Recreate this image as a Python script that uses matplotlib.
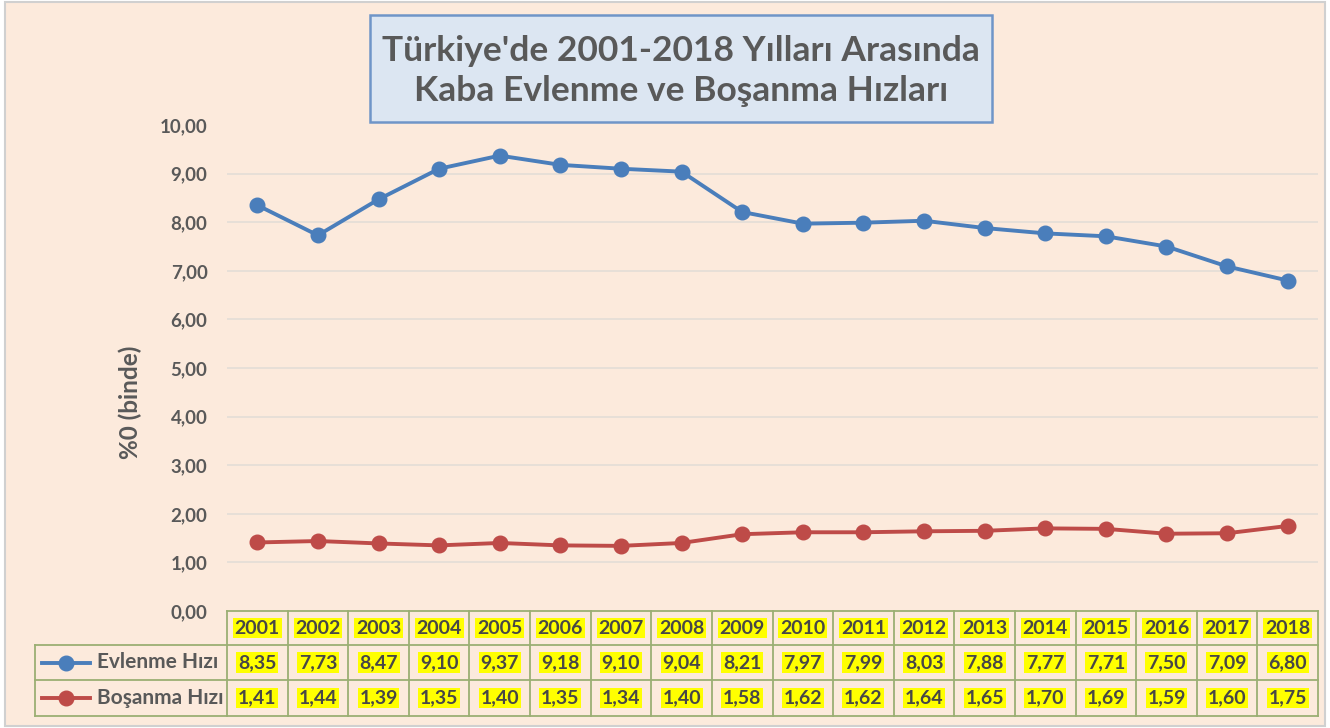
import numpy as np
import matplotlib
matplotlib.use("Agg")
from matplotlib import pyplot as plt
from matplotlib import transforms
from matplotlib.patches import Rectangle

# data
years = [2001, 2002, 2003, 2004, 2005, 2006, 2007, 2008, 2009,
         2010, 2011, 2012, 2013, 2014, 2015, 2016, 2017, 2018]
evlenme = [8.35, 7.73, 8.47, 9.10, 9.37, 9.18, 9.10, 9.04, 8.21,
           7.97, 7.99, 8.03, 7.88, 7.77, 7.71, 7.50, 7.09, 6.80]
bosanma = [1.41, 1.44, 1.39, 1.35, 1.40, 1.35, 1.34, 1.40, 1.58,
           1.62, 1.62, 1.64, 1.65, 1.70, 1.69, 1.59, 1.60, 1.75]
series_names = ["Evlenme Hızı", "Boşanma Hızı"]
yticks = [0, 1, 2, 3, 4, 5, 6, 7, 8, 9, 10]

title = "Türkiye'de 2001-2018 Yılları Arasında\nKaba Evlenme ve Boşanma Hızları"
ylabel = "%0 (binde)"

plt.rcParams['font.family'] = ['Lato', 'DejaVu Sans']

bg = '#FCEADC'
txt = '#595959'
blue = '#4A7EBB'
red = '#BE4B48'
tbl = '#9BAF73'

W, H = 1330, 728
fig = plt.figure(figsize=(W / 100, H / 100), dpi=100)
fig.patch.set_facecolor('white')
# chart area with thin grey frame
fig.patches.append(Rectangle((5 / W, 2 / H), 1320 / W, 724 / H, transform=fig.transFigure,
                             facecolor=bg, edgecolor='#D0D0D0', linewidth=1.5, zorder=-10))

# plot area in pixels
left, right, top, bottom = 227, 1318, 125, 611
ax = fig.add_axes([left / W, 1 - bottom / H, (right - left) / W, (bottom - top) / H])
ax.set_facecolor(bg)
ax.patch.set_alpha(0)

x = np.arange(len(years))
ax.plot(x, evlenme, color=blue, lw=2.8, marker='o', ms=10.5, zorder=3)
ax.plot(x, bosanma, color=red, lw=2.8, marker='o', ms=10.5, zorder=3)

ax.set_xlim(-0.5, len(years) - 0.5)
ax.set_ylim(0, 10)
ax.set_yticks(yticks)
ax.set_yticklabels([f"{v:.2f}".replace('.', ',') for v in yticks])
ax.set_xticks([])
ax.tick_params(axis='y', length=0, pad=14, labelsize=13.5, labelcolor=txt)
for lab in ax.get_yticklabels():
    lab.set_fontweight('bold')
ax.yaxis.grid(True, color='#E3DDD6', lw=1.2)
gl = ax.get_ygridlines()
gl[0].set_visible(False)
gl[-1].set_visible(False)
for s in ax.spines.values():
    s.set_visible(False)
ax.set_ylabel(ylabel, fontsize=17.5, fontweight='bold', color=txt)
ax.yaxis.set_label_coords(-0.078, 0.43)

# data table under the plot, x in data units, y in axes fraction
trans = transforms.blended_transform_factory(ax.transData, ax.transAxes)
ph = bottom - top


def ay(py):
    return (bottom - py) / ph


rows_y = [ay(611), ay(645), ay(680), ay(716)]
n = len(years)
unit = (right - left) / n
lab_left = -0.5 - (left - 35) / unit
lk = dict(color=tbl, lw=1.3, transform=trans, clip_on=False)
# horizontal lines
ax.plot([-0.5, n - 0.5], [rows_y[0]] * 2, **lk)
for ry in rows_y[1:]:
    ax.plot([lab_left, n - 0.5], [ry] * 2, **lk)
# vertical lines
ax.plot([lab_left, lab_left], [rows_y[1], rows_y[3]], **lk)
for i in range(n + 1):
    ax.plot([i - 0.5, i - 0.5], [rows_y[0], rows_y[3]], **lk)

hl = dict(facecolor='#FFFF00', edgecolor='none', pad=1.2)
tk = dict(transform=trans, ha='center', va='center', fontsize=14, fontweight='bold',
          color='#474747', clip_on=False)
for i, yr in enumerate(years):
    ax.text(i, (rows_y[0] + rows_y[1]) / 2, str(yr), bbox=hl, **tk)
    ax.text(i, (rows_y[1] + rows_y[2]) / 2, f"{evlenme[i]:.2f}".replace('.', ','), bbox=hl, **tk)
    ax.text(i, (rows_y[2] + rows_y[3]) / 2, f"{bosanma[i]:.2f}".replace('.', ','), bbox=hl, **tk)

for k, (name, col) in enumerate(zip(series_names, [blue, red])):
    yc = (rows_y[k + 1] + rows_y[k + 2]) / 2
    x0 = -0.5 - (left - 42) / unit
    x1 = -0.5 - (left - 90) / unit
    ax.plot([x0, x1], [yc, yc], color=col, lw=2.8, transform=trans, clip_on=False)
    ax.plot([(x0 + x1) / 2], [yc], color=col, marker='o', ms=10.5, transform=trans, clip_on=False)
    ax.text(-0.5 - (left - 97) / unit, yc, name, transform=trans, ha='left', va='center',
            fontsize=15, fontweight='bold', color=txt, clip_on=False)

# title box
fig.patches.append(Rectangle((370 / W, 1 - 122 / H), 622 / W, 107 / H, transform=fig.transFigure,
                             facecolor='#DCE6F2', edgecolor='#6F95C8', linewidth=1.8, zorder=5))
fig.text(681 / W, 1 - 71 / H, title, ha='center', va='center', fontsize=25.5, fontweight='bold',
         color=txt, linespacing=1.3, zorder=6)

fig.savefig('out.png', dpi=100, facecolor=fig.get_facecolor())
